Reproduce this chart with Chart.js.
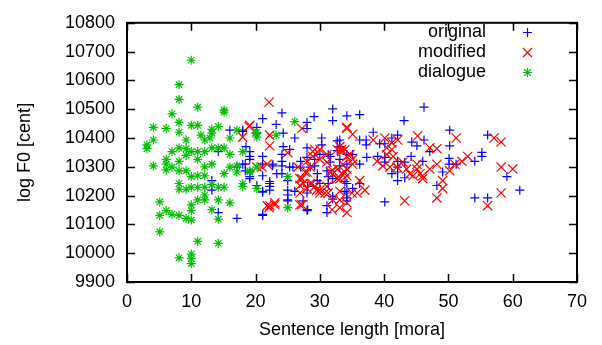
<!DOCTYPE html>
<html>
<head>
<meta charset="utf-8">
<script src="https://cdn.jsdelivr.net/npm/chart.js@4/dist/chart.umd.min.js"></script>
<style>
  html, body { margin: 0; padding: 0; background: #fff; }
  #wrap { width: 602px; height: 345px; position: relative; }
</style>
</head>
<body>
<div id="wrap"><canvas id="chart" width="602" height="345"></canvas></div>
<script>
// values: [sentence length (mora), log F0 (cent)]
const originalPts = [
  [24.1,10487],[32,10501],[32,10460],[34.2,10477],[29.1,10474],[21.1,10467],[23.2,10447],[20.2,10437],[20.2,10417],
  [16,10427],[18,10427],[28,10454],[28,10433],[24.3,10417],[24.3,10370],[26.1,10400],[30.3,10400],[30.3,10376],
  [33.1,10393],[33.1,10370],[19.1,10353],[19.1,10336],[21.1,10336],[24.1,10343],[24.1,10319],[22.6,10303],[18,10309],
  [25.3,10299],[27,10319],[27,10299],[29.2,10326],[29.2,10303],[30,10343],[31.6,10336],[31.6,10316],[34.2,10343],
  [34.2,10309],[19.1,10259],[22.2,10249],[22.2,10232],[23.3,10276],[25,10252],[25,10219],[25,10182],[26.1,10215],
  [28.1,10232],[30,10242],[32,10259],[34.2,10242],[21.1,10215],[13.2,10252],[13.2,10219],[17.1,10121],[21.1,10131],
  [28,10148],[31.1,10141],[31.1,10165],[34.2,10182],
  [36.2,10481],[46.2,10507],[43.1,10460],[38.3,10420],[41.2,10400],[42.1,10410],[36.2,10393],[37.2,10393],[37.2,10376],
  [39.3,10380],[40.1,10380],[44.3,10386],[45.1,10373],[46.2,10393],[50.2,10427],[50.2,10373],[56.1,10410],[47.1,10353],
  [55.2,10350],[55.2,10336],[35.1,10343],[37.3,10333],[36.2,10309],[39,10336],[40.1,10333],[40.1,10316],[42.1,10319],
  [42.1,10299],[42.1,10282],[43.2,10316],[44.2,10336],[41.2,10276],[42.1,10252],[43.2,10262],[50.1,10329],[50.1,10309],
  [51.2,10309],[54.1,10319],[49.1,10282],[48.2,10235],[59.1,10266],[61.1,10219],[34.2,10209],[34.2,10192],[35.1,10225],
  [36.2,10242],[40.1,10178],[54.1,10192],[56.1,10192],[33.1,10326],[33.1,10303],
  [18,10423],[14.2,10353],[17.1,10299],[19.1,10326],[19.1,10282],[19.1,10266],[21.1,10309],[21.1,10269],[21.1,10212],
  [14.2,10141],[21.1,10135],[20.2,10235],[46,10319],[33.9,10249],[33.9,10215],[32,10197],[32,10188],
  [25.3,10360],[22.7,10309],[18.5,10370],[22.2,10242],[22.2,10219],[24.1,10303],[24.1,10276],[25.8,10299],[28,10366],
  [28,10333],[28.5,10299],[29.6,10276],[29.6,10252],[31.3,10343],[31.3,10266],[31.3,10242],[31.1,10286],[25,10202],
  [25,10185],[28,10209],[27.4,10182],[28.1,10151],[18.4,10309],[18.4,10286],[32.7,10356],[32.7,10390]
];

const modifiedPts = [
  [22.1,10524],[19,10440],[18,10403],[22.2,10410],[22.2,10373],[27.2,10433],[34.2,10437],[25,10349],[28.9,10353],
  [28.9,10336],[30,10360],[31.1,10343],[31.1,10316],[33.4,10360],[34.2,10336],[33.6,10309],[33.9,10282],[28,10319],
  [28.5,10299],[27.7,10282],[26.9,10259],[27.4,10242],[28.5,10242],[29.2,10232],[30,10219],[30.8,10209],[31.1,10232],
  [31.6,10282],[32,10276],[32.8,10292],[32.7,10259],[34.2,10269],[21.8,10309],[21,10299],[26.9,10209],[26.9,10168],
  [23,10168],[22.1,10158],[31.9,10151],[33.1,10158],[34.2,10175],
  [29.2,10360],[30,10326],[32,10286],[32.7,10360],[26.6,10299],[28,10282],[27.2,10259],[26.9,10235],[28,10225],
  [28.8,10242],[29.5,10219],[30,10209],[31.3,10209],[32,10185],[22.2,10165],[23,10175],[27.2,10168],
  [34.2,10433],[35.1,10413],[51.2,10400],[45.2,10407],[57.1,10400],[58.2,10386],[38.3,10393],[40.1,10400],[41.2,10383],
  [42.1,10393],[47.1,10366],[48.2,10363],[40.4,10366],[41.2,10360],[33.4,10353],[53,10336],[52.1,10319],[51,10309],
  [50.2,10286],[49.1,10252],[49.1,10225],[48.2,10192],[48.2,10309],[47.1,10292],[46,10269],[58.2,10299],[60,10292],
  [58.2,10209],[56.1,10165],[43.2,10182],[45.1,10309],[45.1,10292],[45.6,10276],[44.5,10269],[46,10259],[38.9,10319],
  [39.8,10303],[40.9,10299],[42,10299],[42.9,10316],[43.5,10292],[44,10276],[40.4,10343],[41.4,10336],[33.1,10370],
  [33.9,10360],[34.7,10343],[35.1,10309],[34.2,10292],[35.1,10326],[36.2,10252],[37,10219],[35.8,10209],[35,10209],
  [34.2,10141],[33.1,10215],[33.1,10185],[19.1,10444],[20.2,10299],[21.8,10165],
  [33.4,10276],[33.1,10259]
];

const dialoguePts = [
  [10,10670],[8.1,10585],[8.1,10534],[11,10507],[15.1,10497],[15.1,10490],[7,10484],[8.1,10454],[4.1,10437],
  [6.1,10433],[10,10444],[11,10444],[8.1,10420],[13.2,10430],[13.2,10417],[14.2,10440],[4.1,10393],[3.1,10376],
  [3.1,10363],[9.2,10393],[12.1,10393],[12.9,10400],[16,10400],[17.1,10427],[8.1,10366],[9.2,10363],[10,10353],
  [7,10353],[11,10353],[11,10326],[12.1,10353],[13.2,10366],[14.2,10366],[15.1,10366],[16,10343],[8.1,10319],
  [6.1,10326],[6.1,10309],[6.1,10289],[4.1,10303],[7,10299],[8.1,10286],[9.2,10286],[10,10266],[11,10269],
  [12.1,10269],[13.2,10309],[15.1,10276],[16,10299],[8.1,10242],[8.1,10222],[9.2,10222],[10,10229],[11,10229],
  [12.1,10229],[13.2,10239],[14.2,10229],[15.1,10229],[12.1,10202],[12.1,10185],[11,10185],[10,10168],[10,10148],
  [14.2,10185],[16,10175],[5.1,10178],[6.1,10148],[7,10135],[8.1,10131],[9.2,10121],[10,10115],[5.1,10131],
  [13.2,10151],[14.2,10118],[5.1,10074],[11,10041],[14.2,10034],[8.1,9984],[10,9997],[10,9981],[10,9964],
  [26.1,10457],[20,10417],[23.2,10410],[18,10353],[20.2,10299],[19.1,10282],[18,10242],[18,10232],[25,10266],
  [25,10158],[20.2,10420],[20.2,10403],[20.2,10225],[17.1,10282],[17.1,10303],[19.1,10286],[12.1,10300],[9.2,10340],
  [11.5,10410]
];

const seriesNames = ['original', 'modified', 'dialogue'];
const seriesColors = ['#0000ff', '#ff0000', '#00c000'];
const seriesStyles = ['cross', 'crossRot', 'star'];
const xTickMax = 70, yTickMin = 9900, yTickMax = 10800;

const FONT = 'Liberation Sans';

function toXY(arr) { return arr.map(p => ({ x: p[0], y: p[1] })); }

// gnuplot style frame: border + inward ticks on all four sides
const framePlugin = {
  id: 'frame',
  afterDatasetsDraw(chart) {
    const { ctx, chartArea: a, scales } = chart;
    ctx.save();
    ctx.strokeStyle = '#000';
    ctx.lineWidth = 1.5;
    ctx.beginPath();
    const tl = 8;
    scales.x.ticks.forEach(t => {
      const px = Math.round(scales.x.getPixelForValue(t.value)) + 0.5;
      ctx.moveTo(px, a.bottom); ctx.lineTo(px, a.bottom - tl);
      ctx.moveTo(px, a.top); ctx.lineTo(px, a.top + tl);
    });
    scales.y.ticks.forEach(t => {
      const py = Math.round(scales.y.getPixelForValue(t.value)) + 0.5;
      ctx.moveTo(a.left, py); ctx.lineTo(a.left + tl, py);
      ctx.moveTo(a.right, py); ctx.lineTo(a.right - tl, py);
    });
    ctx.stroke();
    ctx.lineWidth = 2;
    ctx.strokeRect(a.left, a.top, a.right - a.left, a.bottom - a.top);
    ctx.restore();
  }
};

// legend top right: text right aligned, marker on the right
function drawMarker(ctx, style, x, y, r) {
  ctx.beginPath();
  if (style === 'cross' || style === 'star') {
    ctx.moveTo(x - r, y); ctx.lineTo(x + r, y);
    ctx.moveTo(x, y - r); ctx.lineTo(x, y + r);
  }
  if (style === 'crossRot' || style === 'star') {
    const d = style === 'star' ? r * 0.75 : r;
    ctx.moveTo(x - d, y - d); ctx.lineTo(x + d, y + d);
    ctx.moveTo(x - d, y + d); ctx.lineTo(x + d, y - d);
  }
  ctx.stroke();
}

const keyPlugin = {
  id: 'key',
  afterDraw(chart) {
    const ctx = chart.ctx;
    const rows = [32, 52, 72];
    ctx.save();
    ctx.font = '18px "' + FONT + '"';
    ctx.textAlign = 'right';
    ctx.textBaseline = 'middle';
    seriesNames.forEach((name, i) => {
      ctx.fillStyle = '#000';
      ctx.fillText(name, 486, rows[i]);
      ctx.strokeStyle = seriesColors[i];
      ctx.lineWidth = 1.2;
      drawMarker(ctx, seriesStyles[i], 527.5, rows[i] + 0.5, 4.5);
    });
    ctx.restore();
  }
};

Chart.defaults.font.family = FONT;
Chart.defaults.font.size = 18;
Chart.defaults.color = '#000';

new Chart(document.getElementById('chart'), {
  type: 'scatter',
  data: {
    datasets: [
      { label: seriesNames[0], data: toXY(originalPts), radius: 4.5, order: 2 },
      { label: seriesNames[1], data: toXY(modifiedPts), radius: 6.5, order: 1 },
      { label: seriesNames[2], data: toXY(dialoguePts), radius: 4.5, order: 0 }
    ].map((d, i) => Object.assign(d, {
      pointStyle: seriesStyles[i],
      borderColor: seriesColors[i], backgroundColor: seriesColors[i],
      pointBorderWidth: 1.2, pointHoverRadius: d.radius
    }))
  },
  options: {
    responsive: false,
    animation: false,
    events: [],
    layout: { padding: { top: 14, right: 25, bottom: 0, left: 0 } },
    plugins: { legend: { display: false }, tooltip: { enabled: false } },
    scales: {
      x: {
        type: 'linear', min: 0, max: xTickMax,
        grid: { display: false, drawTicks: false },
        border: { display: false },
        ticks: { stepSize: 10, padding: 9, maxRotation: 0, callback: v => String(v) },
        title: { display: true, text: 'Sentence length [mora]', padding: { top: 0, bottom: 4 } },
        afterFit: s => { s.height = 63; }
      },
      y: {
        type: 'linear', min: yTickMin, max: yTickMax,
        grid: { display: false, drawTicks: false },
        border: { display: false },
        ticks: { stepSize: 100, padding: 12, callback: v => String(v) },
        title: { display: true, text: 'log F0 [cent]', padding: { top: 14, bottom: 0 } },
        afterFit: s => { s.width = 127; }
      }
    }
  },
  plugins: [framePlugin, keyPlugin]
});
</script>
</body>
</html>
